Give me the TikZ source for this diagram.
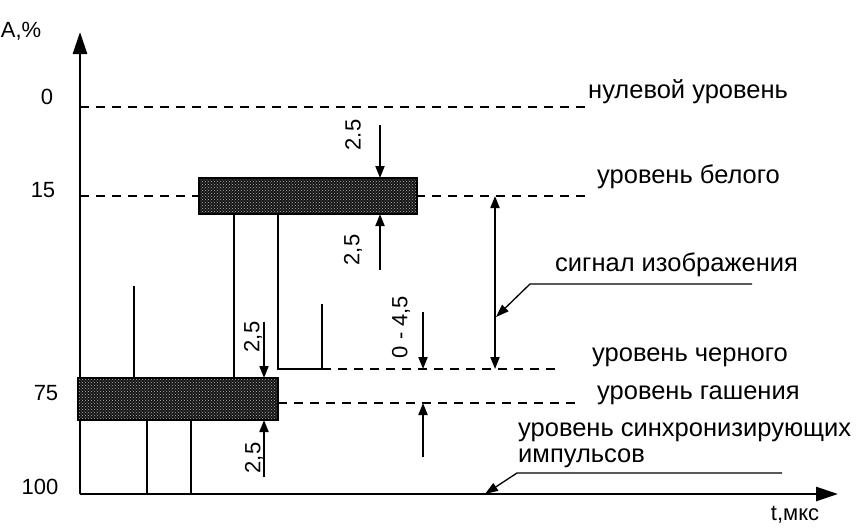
\documentclass[tikz,border=0pt]{standalone}
\usepackage{fontspec}
\setmainfont{Liberation Sans}
\usetikzlibrary{arrows.meta,patterns}

\begin{document}
\begin{tikzpicture}[x=1pt,y=-1pt,>=Latex,
 axis/.style={line width=2.8pt,-{Triangle[length=22pt,width=14pt]}},
 level/.style={line width=1.5pt,dash pattern=on 9pt off 7pt},
 sig/.style={line width=2.6pt},
 dim/.style={line width=1.8pt,-{Triangle[length=12pt,width=9pt]}},
 lead/.style={line width=1.3pt,-{Triangle[length=13pt,width=9pt]}},
 lbl/.style={font=\fontsize{25.5}{27}\selectfont,anchor=west,inner sep=0pt},
 num/.style={font=\fontsize{22}{24}\selectfont,inner sep=0pt},
 dimlbl/.style={num,rotate=90},
 band/.style={draw=black,line width=1.8pt,fill=black!92,inner sep=0pt}]
\useasboundingbox (0,0) rectangle (862,528);
% axes
\coordinate (origin) at (80,494);
\draw[axis] (origin) -- (80,32) coordinate (ytip);
\draw[axis] (origin) -- (838,494) coordinate (xtip);
\node[num] (yname) at (21,31) {A,\%};
\node[num] (tname) at (795,515) {t,мкс};
\foreach \n/\v/\x/\y in {n0/0/47/97,n15/15/43/190,n75/75/46/393,n100/100/40/487}
  \node[num] (\n) at (\x,\y) {\v};
% levels
\coordinate (zeroA) at (80,107); \coordinate (zeroB) at (592,107);
\coordinate (whiteA) at (80,196); \coordinate (whiteB) at (592,196);
\coordinate (blackA) at (322,369); \coordinate (blackB) at (558,369);
\coordinate (blankA) at (278,403); \coordinate (blankB) at (577,403);
\foreach \a/\b in {zeroA/zeroB,whiteA/whiteB,blackA/blackB,blankA/blankB} \draw[level] (\a)--(\b);
\node[lbl] (zerolbl) at (588,92) {нулевой уровень};
\node[lbl] (whitelbl) at (597,177) {уровень белого};
\node[lbl] (imglbl) at (555,265) {сигнал изображения};
\node[lbl] (blacklbl) at (592,357) {уровень черного};
\node[lbl] (blanklbl) at (597,395) {уровень гашения};
\node[lbl] (synclbl) at (518,432) {уровень синхронизирующих};
\node[lbl] (synclbl2) at (518,458) {импульсов};
% bands
\node[band,minimum width=218pt,minimum height=36pt] (whiteband) at (308,196) {};
\node[band,minimum width=200pt,minimum height=42pt] (blackband) at (178,399) {};
\foreach \b in {whiteband,blackband}
  \fill[pattern=crosshatch dots,pattern color=white!70!black] ([shift={(2,-2)}]\b.south west) rectangle ([shift={(-2,2)}]\b.north east);
% signal
\draw[sig] (134,286) -- (134,378);
\draw[sig] (234,214) -- (234,378);
\draw[sig] (278,214) -- (278,369) -- (blackA) -- (322,304);
\draw[sig] (147,420) -- (147,494);
\draw[sig] (191,420) -- (191,494);
% dimensions
\draw[dim] (380,125) -- (380,178);
\draw[dim] (380,270) -- (380,214);
\draw[dim] (264,322) -- (264,378);
\draw[dim] (264,477) -- (264,420);
\draw[dim] (423,312) -- (423,369);
\draw[dim] (423,457) -- (423,403);
\draw[dim,{Triangle[length=12pt,width=9pt]}-{Triangle[length=12pt,width=9pt]}] (whiteB -| 495,0) -- (495,369);
\node[dimlbl] (d1) at (353,135) {2.5};
\node[dimlbl] (d2) at (353,250) {2,5};
\node[dimlbl] (d3) at (253,337) {2,5};
\node[dimlbl] (d4) at (254,458) {2,5};
\node[dimlbl] (d5) at (401,327) {0 - 4,5};
% leaders
\draw[lead] (752,284) -- (530,284) -- (496,317);
\draw[lead] (782,473) -- (517,473) -- (485,494);
\end{tikzpicture}
\end{document}
